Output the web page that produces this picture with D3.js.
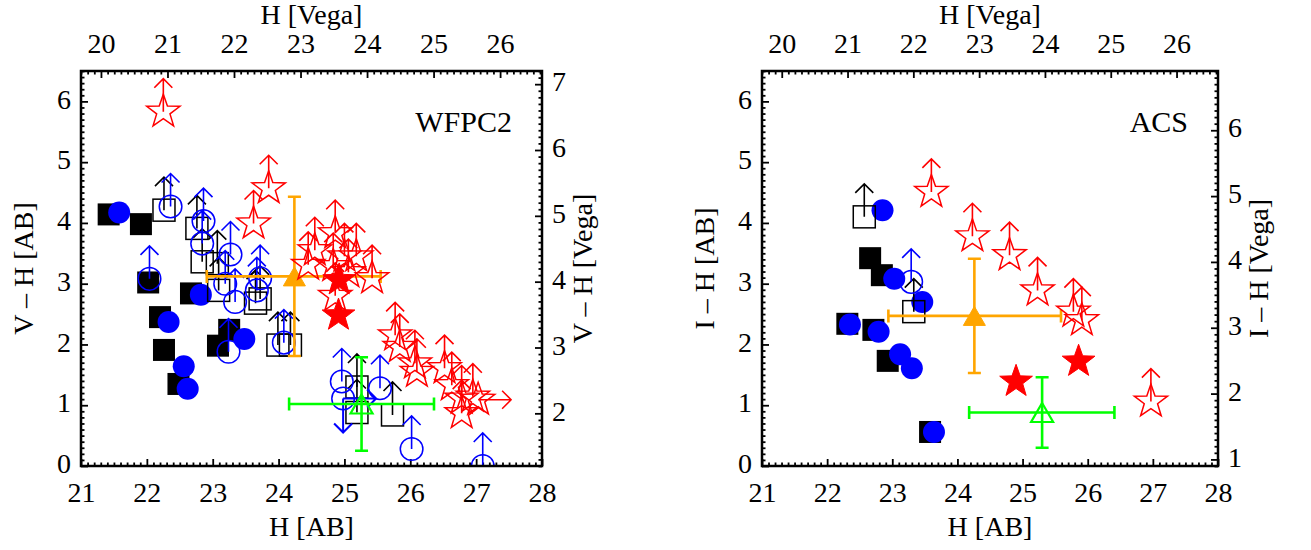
<!DOCTYPE html>
<html><head><meta charset="utf-8">
<script src="https://cdn.jsdelivr.net/npm/d3@7"></script>
<style>
body{margin:0;background:#fff}
svg{display:block}
</style>
</head><body>
<svg id="c" width="1311" height="550"></svg>
<script>
// ---------------- DATA (H_AB, colour_AB) ----------------
const wfpc2BlackSquares = [[21.42,4.14],[21.91,3.98],[22.02,3.02],[22.67,2.84],[22.2,2.45],[22.26,1.91],[22.48,1.35],[23.08,1.98],[23.25,2.24]];
const wfpc2BlueDots = [[21.58,4.17],[22.82,2.82],[22.33,2.37],[22.56,1.64],[22.62,1.27],[23.48,2.09]];
const wfpc2OpenSquares = [[22.26,4.21],[22.76,3.91],[22.84,3.36],[23.07,3.33],[23.09,2.89],[23.65,2.68],[23.72,2.75],[23.99,1.99],[24.18,1.99],[25.19,1.3],[25.19,0.88],[25.73,0.84]];
const wfpc2OpenCircles = [[22.36,4.27],[22.86,4.03],[22.84,3.66],[23.27,3.48],[22.04,3.08],[23.19,3.0],[23.34,2.7],[23.67,2.89],[23.72,3.09],[23.24,1.88],[24.08,2.03],[24.96,1.39],[25.54,1.28],[26.02,0.28],[27.1,0.0]];
const wfpc2CircleDownRight = [[24.98,1.11]];
const wfpc2OpenStars = [[22.25,5.83],[23.85,4.57],[23.62,3.99],[24.55,3.55],[24.86,3.83],[24.45,3.31],[24.83,3.29],[25.0,3.45],[25.18,3.45],[25.06,3.19],[25.42,3.09],[24.86,2.8],
  [25.77,2.15],[25.84,1.96],[26.07,1.69],[26.1,1.55],[26.52,1.61],[26.63,1.33],[26.78,1.11],[26.95,1.14],[26.78,0.87]];
const wfpc2StarRight = [[27.03,1.09]];
const wfpc2FilledStars = [[24.92,3.06],[24.91,2.48]];
// mean points: [H, colour, xErrLow, xErrHigh, yErrLow, yErrHigh]
const wfpc2Orange = [24.24, 3.12, 1.33, 1.31, 1.31, 1.31];
const wfpc2Green = [25.26, 1.02, 1.1, 1.1, 0.77, 0.77];

const acsBlackSquares = [[22.66,3.42],[22.84,3.14],[22.31,2.34],[22.71,2.24],[22.93,1.73],[23.58,0.56]];
const acsBlueDots = [[22.85,4.21],[23.03,3.08],[23.46,2.7],[22.35,2.33],[22.79,2.21],[23.12,1.84],[23.3,1.61],[23.64,0.56]];
const acsOpenSquares = [[22.57,4.1],[23.33,2.54]];
const acsOpenCircles = [[23.29,3.03]];
const acsOpenStars = [[23.6,4.51],[24.23,3.78],[24.8,3.47],[25.23,2.89],[25.78,2.54],[25.91,2.4],[26.97,1.06]];
const acsFilledStars = [[24.9,1.39],[25.86,1.72]];
const acsOrange = [24.26, 2.47, 1.32, 1.33, 0.94, 0.94];
const acsGreen = [25.3, 0.88, 1.12, 1.11, 0.58, 0.58];

// axes
const abXTicks = [21,22,23,24,25,26,27,28];
const vegaXTicks = [20,21,22,23,24,25,26];
const abYTicks = [0,1,2,3,4,5,6];
const wfpc2VegaYTicks = [2,3,4,5,6,7];
const acsVegaYTicks = [1,2,3,4,5,6];
const abXDomain = [21,28];
const vegaXDomain = [19.7,26.63];
const abYDomain = [0,6.5];
const wfpc2VegaYDomain = [1.2,7.2];
const acsVegaYDomain = [0.9,6.9];

// ---------------- DRAWING ----------------
const svg = d3.select("#c");
const FONT = "Liberation Serif";
const FS = 28;
const BLUE="#0000ff", RED="#ff0000", ORANGE="#ffa500", GREEN="#00ff00";

function starPath(cx, cy, R, r){
  let p = "";
  for (let i=0;i<10;i++){
    const a = -Math.PI/2 + i*Math.PI/5;
    const rr = i%2===0 ? R : r;
    p += (i===0?"M":"L") + (cx+rr*Math.cos(a)).toFixed(2)+","+(cy+rr*Math.sin(a)).toFixed(2);
  }
  return p+"Z";
}
function upArrow(x,y,len){ return `M${x},${y}V${y-len}M${x-9},${y-len+9}L${x},${y-len}L${x+9},${y-len+9}`; }
function downArrow(x,y,len){ return `M${x},${y}V${y+len}M${x-9},${y+len-9}L${x},${y+len}L${x+9},${y+len-9}`; }
function rightArrow(x,y,len){ return `M${x},${y}H${x+len}M${x+len-9},${y-9}L${x+len},${y}L${x+len-9},${y+9}`; }

function styleAxis(g){
  g.select(".domain").remove();
  g.attr("font-family",FONT).attr("font-size",FS);
  g.selectAll(".tick line").attr("stroke","#000").attr("stroke-width",1.8);
  g.selectAll(".tick text").attr("fill","#000").attr("font-family",FONT).attr("font-size",FS);
}
function yLabelShift(g){ g.selectAll(".tick text").attr("dy","0.24em"); }
function minorVals(lo, hi){
  return d3.range(Math.ceil(lo*10), Math.floor(hi*10)+1).filter(d=>d%10!==0).map(d=>d/10);
}
function txt(g, size){ return g.append("text").attr("font-family",FONT).attr("font-size",size||FS).attr("fill","#000"); }

function panel(cfg){
  const {x0,x1,yTop,yBot} = cfg;
  const xAB = d3.scaleLinear().domain(abXDomain).range([x0,x1]);
  const xV = d3.scaleLinear().domain(vegaXDomain).range([x0,x1]);
  const yAB = d3.scaleLinear().domain(abYDomain).range([yBot,yTop]);
  const yV = d3.scaleLinear().domain(cfg.vegaYDomain).range([yBot,yTop]);
  const g = svg.append("g");
  const clipId = "clip"+cfg.id;
  svg.append("clipPath").attr("id",clipId).append("rect")
    .attr("x",x0).attr("y",yTop).attr("width",x1-x0).attr("height",yBot-yTop);

  g.append("g").attr("transform",`translate(0,${yBot})`)
    .call(d3.axisBottom(xAB).tickValues(abXTicks).tickSize(-7).tickPadding(16).tickFormat(d3.format("d"))).call(styleAxis);
  g.append("g").attr("transform",`translate(0,${yBot})`)
    .call(d3.axisBottom(xAB).tickValues(minorVals(...abXDomain)).tickSize(-3.5).tickFormat("")).call(styleAxis);
  g.append("g").attr("transform",`translate(0,${yTop})`)
    .call(d3.axisTop(xV).tickValues(vegaXTicks).tickSize(-7).tickPadding(18).tickFormat(d3.format("d"))).call(styleAxis);
  g.append("g").attr("transform",`translate(0,${yTop})`)
    .call(d3.axisTop(xV).tickValues(minorVals(...vegaXDomain)).tickSize(-3.5).tickFormat("")).call(styleAxis);
  g.append("g").attr("transform",`translate(${x0},0)`)
    .call(d3.axisLeft(yAB).tickValues(abYTicks).tickSize(-7).tickPadding(10).tickFormat(d3.format("d"))).call(styleAxis).call(yLabelShift);
  g.append("g").attr("transform",`translate(${x0},0)`)
    .call(d3.axisLeft(yAB).tickValues(minorVals(...abYDomain)).tickSize(-3.5).tickFormat("")).call(styleAxis);
  g.append("g").attr("transform",`translate(${x1},0)`)
    .call(d3.axisRight(yV).tickValues(cfg.vegaYTicks).tickSize(-7).tickPadding(10).tickFormat(d3.format("d"))).call(styleAxis).call(yLabelShift);
  g.append("g").attr("transform",`translate(${x1},0)`)
    .call(d3.axisRight(yV).tickValues(minorVals(...cfg.vegaYDomain)).tickSize(-3.5).tickFormat("")).call(styleAxis);

  const cx = (x0+x1)/2, cy = (yTop+yBot)/2;
  txt(g).attr("x",cx).attr("y",536).attr("text-anchor","middle").text("H [AB]");
  txt(g).attr("x",cx).attr("y",24).attr("text-anchor","middle").text("H [Vega]");
  txt(g).attr("transform",`translate(${x0-48},${cy}) rotate(-90)`).attr("text-anchor","middle").text(cfg.yLabel+" [AB]");
  txt(g).attr("transform",`translate(${x1+50},${cy}) rotate(-90)`).attr("text-anchor","middle").text(cfg.yLabel+" [Vega]");
  txt(g,30).attr("x",x1-30).attr("y",132).attr("text-anchor","end").text(cfg.label);

  const d = g.append("g").attr("clip-path",`url(#${clipId})`);
  const S = 22;
  d.selectAll(".bsq").data(cfg.blackSquares).join("rect")
    .attr("x",p=>xAB(p[0])-S/2).attr("y",p=>yAB(p[1])-S/2).attr("width",S).attr("height",S).attr("fill","#000");
  d.selectAll(".bdot").data(cfg.blueDots).join("circle")
    .attr("cx",p=>xAB(p[0])).attr("cy",p=>yAB(p[1])).attr("r",11).attr("fill",BLUE);
  d.selectAll(".osq").data(cfg.openSquares).join("rect")
    .attr("x",p=>xAB(p[0])-S/2).attr("y",p=>yAB(p[1])-S/2).attr("width",S).attr("height",S)
    .attr("fill","none").attr("stroke","#000").attr("stroke-width",1.5);
  d.selectAll(".osqa").data(cfg.openSquares).join("path")
    .attr("d",p=>upArrow(xAB(p[0]),yAB(p[1]),33)).attr("fill","none").attr("stroke","#000").attr("stroke-width",1.6);
  d.selectAll(".ocirc").data(cfg.openCircles).join("circle")
    .attr("cx",p=>xAB(p[0])).attr("cy",p=>yAB(p[1])).attr("r",11.3)
    .attr("fill","none").attr("stroke",BLUE).attr("stroke-width",1.5);
  d.selectAll(".ocirca").data(cfg.openCircles).join("path")
    .attr("d",p=>upArrow(xAB(p[0]),yAB(p[1]),33)).attr("fill","none").attr("stroke",BLUE).attr("stroke-width",1.6);
  d.selectAll(".ocircdr").data(cfg.circleDownRight||[]).join("circle")
    .attr("cx",p=>xAB(p[0])).attr("cy",p=>yAB(p[1])).attr("r",11.3)
    .attr("fill","none").attr("stroke",BLUE).attr("stroke-width",1.5);
  d.selectAll(".ocircdra").data(cfg.circleDownRight||[]).join("path")
    .attr("d",p=>downArrow(xAB(p[0]),yAB(p[1]),34)+rightArrow(xAB(p[0]),yAB(p[1]),33))
    .attr("fill","none").attr("stroke",BLUE).attr("stroke-width",2);

  [[cfg.orange,ORANGE,true],[cfg.green,GREEN,false]].forEach(([m,col,filled])=>{
    const [h,c,xl,xh,yl,yh] = m;
    const px=xAB(h), py=yAB(c), xa=xAB(h-xl), xb=xAB(h+xh), ya=yAB(c+yh), yb=yAB(c-yl);
    const cap=6.5;
    d.append("path").attr("d",`M${xa},${py}H${xb}M${px},${ya}V${yb}M${xa},${py-cap}V${py+cap}M${xb},${py-cap}V${py+cap}M${px-cap},${ya}H${px+cap}M${px-cap},${yb}H${px+cap}`)
      .attr("fill","none").attr("stroke",col).attr("stroke-width",2.6);
    const w=11, ht=9.5;
    d.append("path").attr("d",`M${px},${py-ht}L${px+w},${py+ht}L${px-w},${py+ht}Z`)
      .attr("fill",filled?col:"none").attr("stroke",col).attr("stroke-width",filled?1:2.2);
  });

  d.selectAll(".ostar").data(cfg.openStars).join("path")
    .attr("d",p=>starPath(xAB(p[0]),yAB(p[1]),17.5,7)).attr("fill","none").attr("stroke",RED).attr("stroke-width",1.5);
  d.selectAll(".ostara").data(cfg.openStars).join("path")
    .attr("d",p=>upArrow(xAB(p[0]),yAB(p[1]),33)).attr("fill","none").attr("stroke",RED).attr("stroke-width",1.6);
  d.selectAll(".ostarr").data(cfg.starRight||[]).join("path")
    .attr("d",p=>starPath(xAB(p[0]),yAB(p[1]),17.5,7)+rightArrow(xAB(p[0]),yAB(p[1]),33))
    .attr("fill","none").attr("stroke",RED).attr("stroke-width",1.5);
  d.selectAll(".fstar").data(cfg.filledStars).join("path")
    .attr("d",p=>starPath(xAB(p[0]),yAB(p[1]),17.2,7)).attr("fill",RED).attr("stroke",RED).attr("stroke-width",1);

  g.append("rect").attr("x",x0).attr("y",yTop).attr("width",x1-x0).attr("height",yBot-yTop)
    .attr("fill","none").attr("stroke","#000").attr("stroke-width",2.5);
}

panel({id:"w", x0:81, x1:542, yTop:71, yBot:466, label:"WFPC2", yLabel:"V \u2013 H",
  vegaYDomain:wfpc2VegaYDomain, vegaYTicks:wfpc2VegaYTicks,
  blackSquares:wfpc2BlackSquares, blueDots:wfpc2BlueDots, openSquares:wfpc2OpenSquares,
  openCircles:wfpc2OpenCircles, circleDownRight:wfpc2CircleDownRight, openStars:wfpc2OpenStars,
  starRight:wfpc2StarRight, filledStars:wfpc2FilledStars, orange:wfpc2Orange, green:wfpc2Green});
panel({id:"a", x0:762, x1:1218, yTop:71, yBot:466, label:"ACS", yLabel:"I \u2013 H",
  vegaYDomain:acsVegaYDomain, vegaYTicks:acsVegaYTicks,
  blackSquares:acsBlackSquares, blueDots:acsBlueDots, openSquares:acsOpenSquares,
  openCircles:acsOpenCircles, openStars:acsOpenStars, filledStars:acsFilledStars,
  orange:acsOrange, green:acsGreen});
</script>
</body></html>
